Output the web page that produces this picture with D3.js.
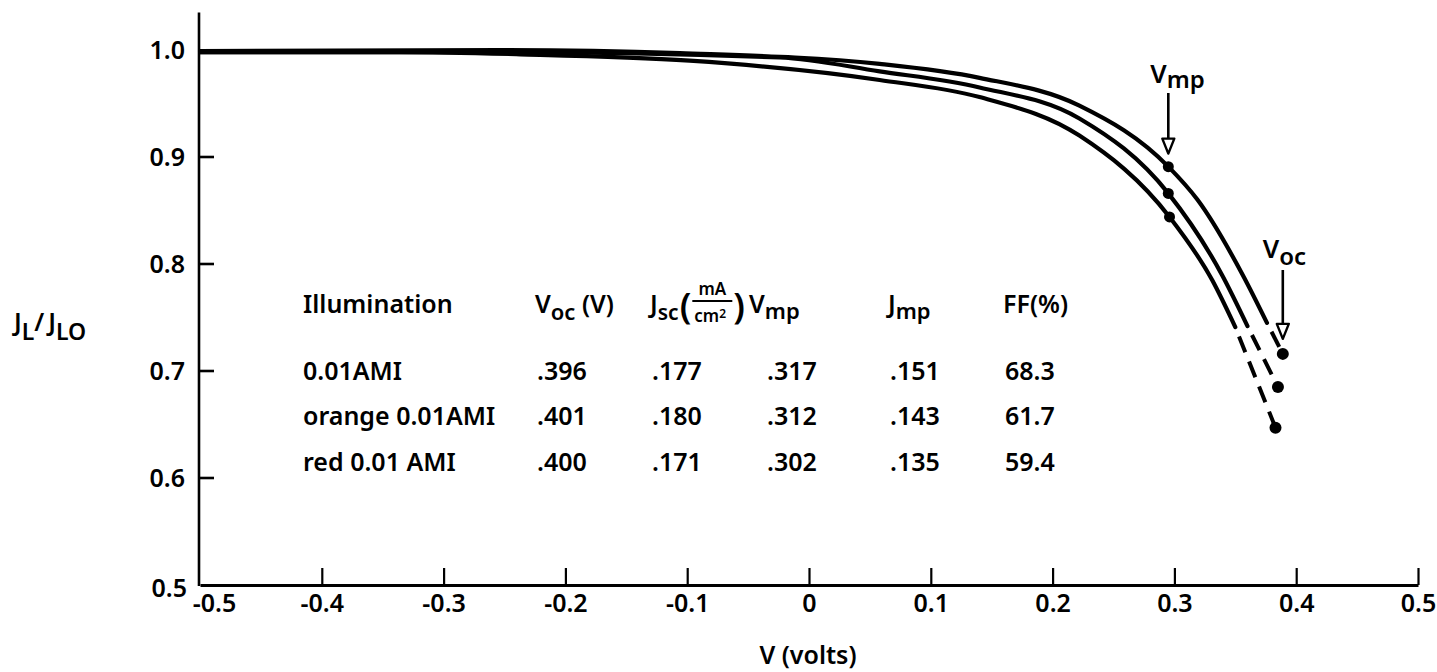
<!DOCTYPE html>
<html><head><meta charset="utf-8">
<script src="https://cdn.jsdelivr.net/npm/d3@7"></script>
<style>
html,body{margin:0;padding:0;background:#fff;}
svg text{font-family:"Noto Sans","DejaVu Sans",sans-serif;fill:#000;font-weight:600;}
</style></head>
<body><svg id="chart" width="1437" height="672"></svg>
<script>
// ---------- data ----------
const xTickValues = [-0.5,-0.4,-0.3,-0.2,-0.1,0,0.1,0.2,0.3,0.4,0.5];
const xTickLabels = ["-0.5","-0.4","-0.3","-0.2","-0.1","0","0.1","0.2","0.3","0.4","0.5"];
const yTickValues = [0.5,0.6,0.7,0.8,0.9,1.0];
const yTickLabels = ["0.5","0.6","0.7","0.8","0.9","1.0"];

// J_L/J_LO vs V, solid portions
const curveAMI_V = [-0.5,-0.254,-0.106,0.058,0.140,0.222,0.295,0.319,0.356,0.376];
const curveAMI_J = [0.999,1.000,0.997,0.987,0.974,0.948,0.891,0.860,0.790,0.745];
const curveOrange_V = [-0.5,-0.254,-0.024,0.058,0.140,0.222,0.295,0.339,0.360];
const curveOrange_J = [0.998,0.998,0.993,0.980,0.965,0.936,0.866,0.790,0.742];
const curveRed_V = [-0.5,-0.336,-0.237,-0.098,0.058,0.140,0.222,0.296,0.331,0.350];
const curveRed_J = [0.998,0.998,0.996,0.990,0.972,0.956,0.920,0.844,0.785,0.741];

// marked points: maximum power (Vmp) and open circuit (Voc)
const vmpPointV = [0.295,0.295,0.296];
const vmpPointJ = [0.891,0.866,0.844];
const vocPointV = [0.389,0.385,0.383];
const vocPointJ = [0.716,0.685,0.647];

// inset table
const tableIllum = ["0.01AMI","orange 0.01AMI","red 0.01 AMI"];
const tableVoc = [".396",".401",".400"];
const tableJsc = [".177",".180",".171"];
const tableVmp = [".317",".312",".302"];
const tableJmp = [".151",".143",".135"];
const tableFF  = ["68.3","61.7","59.4"];

// ---------- drawing ----------
const svg = d3.select("#chart");
const x = d3.scaleLinear().domain([-0.5,0.5]).range([200,1418]);
const y = d3.scaleLinear().domain([0.5,1.0]).range([585,50]);

// x axis
const xAxis = d3.axisBottom(x).tickValues(xTickValues)
  .tickFormat((d,i)=>xTickLabels[i]).tickSizeInner(-17).tickSizeOuter(0).tickPadding(9);
const gx = svg.append("g").attr("transform","translate(0,585)").call(xAxis);
gx.select(".domain").attr("stroke","#000").attr("stroke-width",3);
gx.selectAll(".tick line").attr("stroke","#000").attr("stroke-width",2.2);
gx.selectAll(".tick").filter(d=>d===-0.5).select("line").remove();
gx.selectAll(".tick text").attr("font-size",25).attr("font-family","Noto Sans");
gx.selectAll(".tick").filter(d=>d===-0.5).select("text").attr("dx",14);

// y axis line (extends a little above 1.0)
svg.append("line").attr("x1",199).attr("x2",199).attr("y1",y(1.035)).attr("y2",586)
  .attr("stroke","#000").attr("stroke-width",2.6);
// y tick labels
const yAxis = d3.axisLeft(y).tickValues(yTickValues)
  .tickFormat((d,i)=>yTickLabels[i]).tickSize(0).tickPadding(14);
const gy = svg.append("g").attr("transform","translate(199,0)").call(yAxis);
gy.select(".domain").remove();
gy.selectAll(".tick text").attr("font-size",25).attr("font-family","Noto Sans");
gy.selectAll(".tick").filter(d=>d===0.5).select("text").attr("dy","0.45em").attr("dx",2);
// y tick marks (pointing inward)
svg.append("g").selectAll("line").data(yTickValues.filter(v=>v>0.5 && v<1.0)).join("line")
  .attr("x1",199).attr("x2",214).attr("y1",d=>y(d)).attr("y2",d=>y(d))
  .attr("stroke","#000").attr("stroke-width",2.6);

// axis titles
svg.append("text").attr("x",808).attr("y",664).attr("text-anchor","middle")
  .attr("font-size",25).text("V (volts)");
const yl = svg.append("text").attr("x",14).attr("y",331).attr("font-size",25);
yl.append("tspan").text("J");
yl.append("tspan").attr("dy",9).attr("font-size",23).text("L");
yl.append("tspan").attr("dy",-9).text("/");
yl.append("tspan").attr("dx",4).text("J");
yl.append("tspan").attr("dy",9).attr("font-size",23).text("LO");

// curves
const line = d3.line().x(d=>x(d[0])).y(d=>y(d[1])).curve(d3.curveMonotoneX);
const series = [
  {V:curveAMI_V,J:curveAMI_J},
  {V:curveOrange_V,J:curveOrange_J},
  {V:curveRed_V,J:curveRed_J}
];
series.forEach((s,i)=>{
  const pts = s.V.map((v,k)=>[v,s.J[k]]);
  svg.append("path").attr("d",line(pts)).attr("fill","none")
    .attr("stroke","#000").attr("stroke-width",4.2).attr("stroke-linecap","round");
  const last = pts[pts.length-1];
  const dashed = [last,[vocPointV[i],vocPointJ[i]]];
  svg.append("path").attr("d",d3.line().x(d=>x(d[0])).y(d=>y(d[1]))(dashed))
    .attr("fill","none").attr("stroke","#000").attr("stroke-width",4)
    .attr("stroke-dasharray","17 10").attr("stroke-dashoffset",17).attr("stroke-linecap","butt");
});

// marker dots
svg.append("g").selectAll("circle").data(vmpPointV.map((v,i)=>[v,vmpPointJ[i]])).join("circle")
  .attr("cx",d=>x(d[0])).attr("cy",d=>y(d[1])).attr("r",5.5).attr("fill","#000");
svg.append("g").selectAll("circle").data(vocPointV.map((v,i)=>[v,vocPointJ[i]])).join("circle")
  .attr("cx",d=>x(d[0])).attr("cy",d=>y(d[1])).attr("r",6).attr("fill","#000");

// arrows with labels
function arrow(xp, y1, tip){
  svg.append("line").attr("x1",xp).attr("x2",xp).attr("y1",y1).attr("y2",tip-14)
    .attr("stroke","#000").attr("stroke-width",2.6);
  svg.append("path").attr("d",`M${xp-6},${tip-15} L${xp},${tip} L${xp+6},${tip-15} Z`)
    .attr("fill","#fff").attr("stroke","#000").attr("stroke-width",2.4).attr("stroke-linejoin","round");
}
const vmpX = x(vmpPointV[0]);
arrow(vmpX, 93, y(vmpPointJ[0])-13);
const t1 = svg.append("text").attr("x",vmpX-18).attr("y",83).attr("font-size",26);
t1.append("tspan").text("V");
t1.append("tspan").attr("dy",5).attr("font-size",24).text("mp");
const vocX = x(vocPointV[0]);
arrow(vocX, 270, y(vocPointJ[0])-15);
const t2 = svg.append("text").attr("x",vocX-20).attr("y",258).attr("font-size",26);
t2.append("tspan").text("V");
t2.append("tspan").attr("dy",7).attr("font-size",24).text("oc");

// inset table
const colX = [303,537,652,767,890,1005];
const rowY = [380,425,471];
const fs = 25;
const h = svg.append("g").attr("font-size",fs);
h.append("text").attr("x",303).attr("y",313).text("Illumination");
const hv = h.append("text").attr("x",535).attr("y",313);
hv.append("tspan").text("V");
hv.append("tspan").attr("dy",7).attr("font-size",22).text("oc");
hv.append("tspan").attr("dy",-7).text(" (V)");
const hj = h.append("text").attr("x",650).attr("y",313);
hj.append("tspan").text("J");
hj.append("tspan").attr("dy",7).attr("font-size",21).text("sc");
const jEnd = 650 + hj.node().getComputedTextLength() + 1;
// fraction mA / cm2 in parentheses
const lp = h.append("text").attr("x",jEnd).attr("y",319).attr("font-size",36).attr("font-weight",400).text("(");
const fx = jEnd + lp.node().getComputedTextLength() + 1;
h.append("text").attr("x",fx+20).attr("y",295).attr("font-size",17).attr("text-anchor","middle").text("mA");
h.append("line").attr("x1",fx).attr("x2",fx+40).attr("y1",301).attr("y2",301).attr("stroke","#000").attr("stroke-width",2);
const cm = h.append("text").attr("x",fx+2).attr("y",322).attr("font-size",17);
cm.append("tspan").text("cm");
cm.append("tspan").attr("dy",-4).attr("font-size",12).text("2");
const rp = h.append("text").attr("x",fx+41).attr("y",319).attr("font-size",36).attr("font-weight",400).text(")");
const vmpHX = fx + 41 + rp.node().getComputedTextLength() + 4;
const hvm = h.append("text").attr("x",vmpHX).attr("y",313);
hvm.append("tspan").text("V");
hvm.append("tspan").attr("dy",6).attr("font-size",22).text("mp");
const hjm = h.append("text").attr("x",888).attr("y",313);
hjm.append("tspan").text("J");
hjm.append("tspan").attr("dy",6).attr("font-size",22).text("mp");
h.append("text").attr("x",1003).attr("y",313).text("FF(%)");

const cols = [tableIllum,tableVoc,tableJsc,tableVmp,tableJmp,tableFF];
const tb = svg.append("g").attr("font-size",fs);
cols.forEach((col,c)=>{
  tb.selectAll(null).data(col).join("text")
    .attr("x",colX[c]).attr("y",(d,i)=>rowY[i]).text(d=>d);
});
</script></body></html>
